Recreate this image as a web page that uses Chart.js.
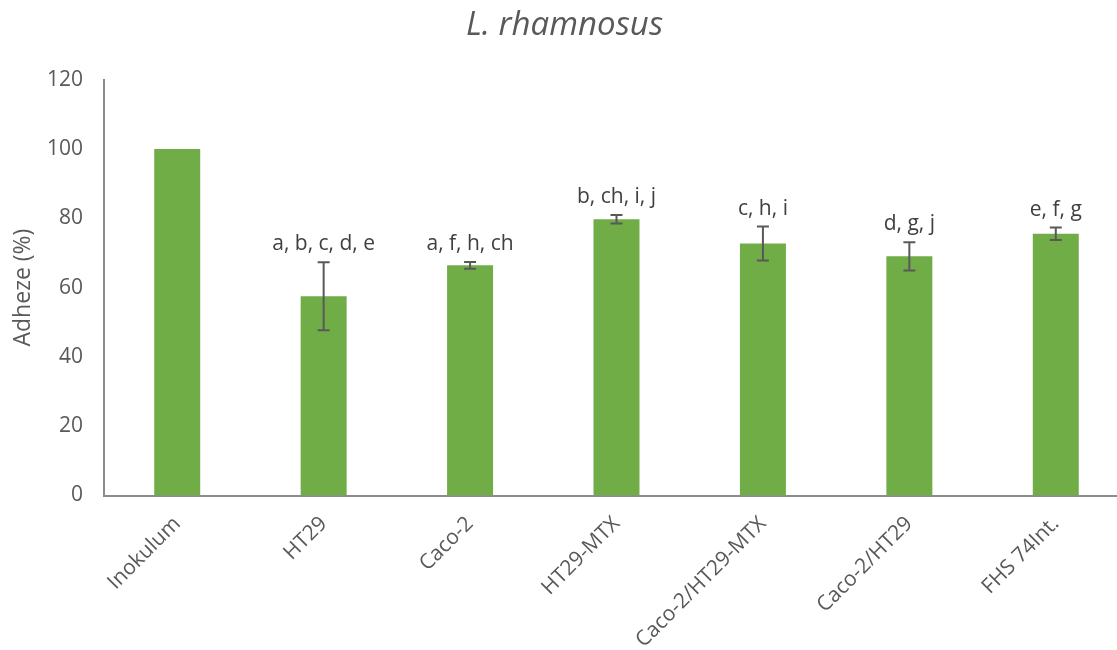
<!DOCTYPE html>
<html>
<head>
<meta charset="utf-8">
<script src="https://cdn.jsdelivr.net/npm/chart.js@4"></script>
<style>
  body { margin: 0; overflow: hidden; background: #fff; }
  #wrap { width: 1130px; height: 650px; }
</style>
</head>
<body>
<div id="wrap"><canvas id="myChart"></canvas></div>
<script>
// dados do gráfico
var categorias = ['Inokulum', 'HT29', 'Caco-2', 'HT29-MTX', 'Caco-2/HT29-MTX', 'Caco-2/HT29', 'FHS 74Int.']
var adheze = [100, 57.5, 66.4, 79.7, 72.7, 69.0, 75.5]
var desvio = [0, 9.8, 1.0, 1.2, 4.9, 4.1, 1.8]
var letras = ['', 'a, b, c, d, e', 'a, f, h, ch', 'b, ch, i, j', 'c, h, i', 'd, g, j', 'e, f, g']
var ticksY = [0, 20, 40, 60, 80, 100, 120]

var fonte = '"Open Sans", sans-serif'

// barras de erro + letras acima
var errorBars = {
    id: 'errorBars',
    afterDatasetsDraw(chart) {
        var ctx = chart.ctx
        var x = chart.scales.x
        var y = chart.scales.y
        ctx.save()
        for (var i = 0; i < adheze.length; i++) {
            var cx = x.getPixelForValue(i)
            var topo = y.getPixelForValue(adheze[i] + desvio[i])
            var base = y.getPixelForValue(adheze[i] - desvio[i])
            if (desvio[i] > 0) {
                ctx.strokeStyle = '#595959'
                ctx.lineWidth = 2
                ctx.beginPath()
                ctx.moveTo(cx, topo); ctx.lineTo(cx, base)
                ctx.moveTo(cx - 6, topo); ctx.lineTo(cx + 6, topo)
                ctx.moveTo(cx - 6, base); ctx.lineTo(cx + 6, base)
                ctx.stroke()
            }
            if (letras[i]) {
                ctx.fillStyle = '#404040'
                ctx.font = '21px ' + fonte
                ctx.textAlign = 'center'
                ctx.textBaseline = 'alphabetic'
                ctx.fillText(letras[i], cx, topo - 12)
            }
        }
        ctx.restore()
    }
}

var ctx = document.getElementById('myChart').getContext('2d')
var myChart = new Chart(ctx, {
    type: 'bar',
    data: {
        labels: categorias,
        datasets: [{
            data: adheze,
            backgroundColor: '#70AD47',
            categoryPercentage: 1,
            barPercentage: 0.314
        }]
    },
    options: {
        responsive: true,
        maintainAspectRatio: false,
        animation: false,
        layout: { padding: { left: 0, right: 1, top: 0, bottom: 0 } },
        plugins: {
            legend: { display: false },
            tooltip: { enabled: false },
            title: {
                display: true,
                text: 'L. rhamnosus',
                color: '#595959',
                font: { family: fonte, size: 33, style: 'italic', weight: 'normal' },
                padding: { top: 6, bottom: 34 }
            }
        },
        scales: {
            x: {
                grid: { display: false, drawTicks: false },
                border: { display: true, color: '#8c8c8c', width: 2 },
                ticks: {
                    color: '#595959',
                    font: { family: fonte, size: 21 },
                    minRotation: 45,
                    maxRotation: 45,
                    autoSkip: false,
                    padding: 16
                },
                afterFit(scale) { scale.height = 154.5 }
            },
            y: {
                min: 0,
                max: 120,
                afterBuildTicks(scale) { scale.ticks = ticksY.map(v => ({ value: v })) },
                grid: { display: false, drawTicks: false },
                border: { display: true, color: '#8c8c8c', width: 2 },
                ticks: {
                    color: '#595959',
                    font: { family: fonte, size: 21 },
                    padding: 21
                },
                title: {
                    display: true,
                    text: 'Adheze (%)',
                    color: '#595959',
                    font: { family: fonte, size: 23 },
                    padding: { top: 10, bottom: 0 }
                },
                afterFit(scale) { scale.width = 104 }
            }
        }
    },
    plugins: [errorBars]
})
</script>
</body>
</html>
